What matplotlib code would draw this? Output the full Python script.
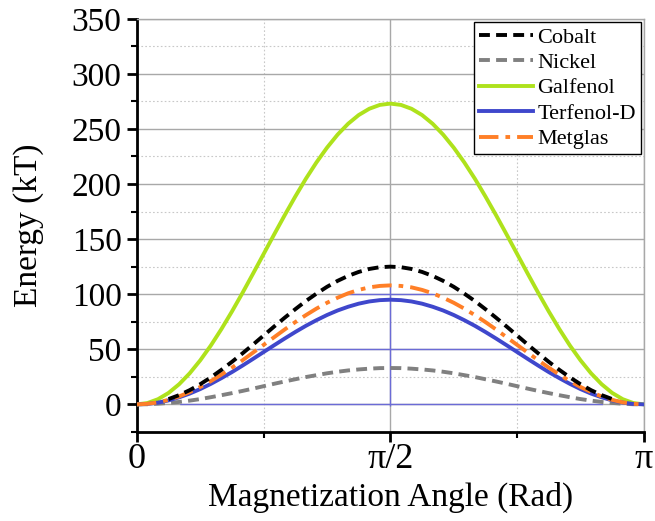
import numpy as np
import matplotlib
matplotlib.use("Agg")
import matplotlib.pyplot as plt
from matplotlib.patches import Polygon
from matplotlib.ticker import FixedLocator, MultipleLocator

# Magnetization angle samples (rad), 3.75 degree steps from 0 to pi
angle = [0.0, 0.0654, 0.1309, 0.1963, 0.2618, 0.3272, 0.3927, 0.4581, 0.5236, 0.5890,
         0.6545, 0.7199, 0.7854, 0.8508, 0.9163, 0.9817, 1.0472, 1.1126, 1.1781, 1.2435,
         1.3090, 1.3744, 1.4399, 1.5053, 1.5708, 1.6362, 1.7017, 1.7671, 1.8326, 1.8980,
         1.9635, 2.0289, 2.0944, 2.1598, 2.2253, 2.2907, 2.3562, 2.4216, 2.4871, 2.5525,
         2.6180, 2.6834, 2.7489, 2.8143, 2.8798, 2.9452, 3.0107, 3.0761, 3.1416]

nan = float("nan")
cobalt = [nan, nan, nan, 4.8, 8.4, 12.9, 18.3, 24.5, 31.3, 38.6, 46.3, 54.3, 62.5,
          70.7, 78.7, 86.4, 93.8, 100.5, 106.7, 112.1, 116.6, 120.2, 122.9, 124.5, 125.0,
          124.5, 122.9, 120.2, 116.6, 112.1, 106.7, 100.5, 93.8, 86.4, 78.7, 70.7,
          62.5, 54.3, 46.3, 38.6, 31.3, 24.5, 18.3, 12.9, 8.4, 4.8, nan, nan, nan]
nickel = [0.0, 0.1, 0.6, 1.3, 2.2, 3.4, 4.8, 6.5, 8.3, 10.2, 12.2, 14.3, 16.5,
          18.7, 20.8, 22.8, 24.8, 26.5, 28.2, 29.6, 30.8, 31.7, 32.4, 32.9, 33.0,
          32.9, 32.4, 31.7, 30.8, 29.6, 28.2, 26.5, 24.8, 22.8, 20.8, 18.7,
          16.5, 14.3, 12.2, 10.2, 8.3, 6.5, 4.8, 3.4, 2.2, 1.3, 0.6, 0.1, 0.0]
galfenol = [0.0, 1.2, 4.7, 10.4, 18.3, 28.2, 40.0, 53.4, 68.3, 84.3, 101.2, 118.7, 136.5,
            154.3, 171.8, 188.7, 204.8, 219.6, 233.0, 244.8, 254.7, 262.6, 268.3, 271.8, 273.0,
            271.8, 268.3, 262.6, 254.7, 244.8, 233.0, 219.6, 204.8, 188.7, 171.8, 154.3,
            136.5, 118.7, 101.2, 84.3, 68.3, 53.4, 40.0, 28.2, 18.3, 10.4, 4.7, 1.2, 0.0]
terfenol = [0.0, 0.4, 1.6, 3.6, 6.4, 9.8, 13.9, 18.6, 23.8, 29.3, 35.2, 41.3, 47.5,
            53.7, 59.8, 65.7, 71.3, 76.4, 81.1, 85.2, 88.6, 91.4, 93.4, 94.6, 95.0,
            94.6, 93.4, 91.4, 88.6, 85.2, 81.1, 76.4, 71.3, 65.7, 59.8, 53.7,
            47.5, 41.3, 35.2, 29.3, 23.8, 18.6, 13.9, 9.8, 6.4, 3.6, 1.6, 0.4, 0.0]
metglas = [0.0, 0.5, 1.8, 4.1, 7.2, 11.2, 15.8, 21.1, 27.0, 33.3, 40.0, 47.0, 54.0,
           61.0, 68.0, 74.7, 81.0, 86.9, 92.2, 96.8, 100.8, 103.9, 106.2, 107.5, 108.0,
           107.5, 106.2, 103.9, 100.8, 96.8, 92.2, 86.9, 81.0, 74.7, 68.0, 61.0,
           54.0, 47.0, 40.0, 33.3, 27.0, 21.1, 15.8, 11.2, 7.2, 4.1, 1.8, 0.5, 0.0]

x_ticks = [0, np.pi / 2, np.pi]
x_ticklabels = ["0", "\u03c0/2", "\u03c0"]

plt.rcParams["font.family"] = ["Liberation Serif", "DejaVu Serif"]

fig = plt.figure(figsize=(6.55, 5.21), dpi=100)
ax = fig.add_axes([0.209, 0.171, 0.774, 0.793])

ax.set_xlim(0, np.pi)
ax.set_ylim(-25, 350)

# grid
ax.xaxis.set_major_locator(FixedLocator(x_ticks))
ax.xaxis.set_minor_locator(FixedLocator([np.pi / 4, 3 * np.pi / 4]))
ax.yaxis.set_major_locator(MultipleLocator(50))
ax.yaxis.set_minor_locator(MultipleLocator(25))
ax.grid(which="major", color="#a8a8a8", linewidth=1.0, linestyle="-", zorder=0)
ax.grid(which="minor", color="#c8c8c8", linewidth=0.8, linestyle=(0, (1.5, 2)), zorder=0)
ax.set_axisbelow(True)

# blue grid overlay below the Metglas curve
i0, i1 = 4, 44
poly_xy = [(angle[i], metglas[i]) for i in range(i0, i1 + 1)]
poly_xy += [(2.89, -2), (0.27, -2)]
clip = Polygon(poly_xy, closed=True, transform=ax.transData, facecolor="none", edgecolor="none")
ax.add_patch(clip)
for yv in (0, 50, 100):
    ln = ax.axhline(yv, color="#6b6bd6", linewidth=1.0, zorder=1)
    ln.set_clip_path(clip)
vl = ax.axvline(np.pi / 2, color="#6b6bd6", linewidth=1.0, zorder=1)
vl.set_clip_path(clip)

lw = 2.8
ax.plot(angle, nickel, color="#808080", linestyle=(0, (2.8, 1.6)), linewidth=lw, label="Nickel", zorder=3)
ax.plot(angle, galfenol, color="#aee21c", linestyle="-", linewidth=lw, label="Galfenol", zorder=3)
ax.plot(angle, terfenol, color="#3f47cc", linestyle="-", linewidth=lw, label="Terfenol-D", zorder=4)
ax.plot(angle, metglas, color="#ff7f27", linestyle=(0, (5, 1.8, 1.2, 1.8)), linewidth=lw, label="Metglas", zorder=5)
ax.plot(angle, cobalt, color="black", linestyle=(0, (2.8, 1.6)), linewidth=lw, label="Cobalt", zorder=6)

ax.set_xticklabels(x_ticklabels)

for s in ("left", "bottom"):
    ax.spines[s].set_linewidth(2.0)
    ax.spines[s].set_color("black")
for s in ("top", "right"):
    ax.spines[s].set_linewidth(1.0)
    ax.spines[s].set_color("#a8a8a8")

ax.tick_params(which="major", direction="out", length=7, width=2, labelsize=24, pad=4,
               top=False, right=False)
ax.tick_params(which="minor", direction="out", length=4, width=1.5, top=False, right=False)
ax.tick_params(axis="x", which="major", pad=1, labelsize=26)

ax.set_xlabel("Magnetization Angle (Rad)", fontsize=24, labelpad=4)
ax.set_ylabel("Energy (kT)", fontsize=24, labelpad=20)

handles, labels = ax.get_legend_handles_labels()
order = ["Cobalt", "Nickel", "Galfenol", "Terfenol-D", "Metglas"]
hmap = dict(zip(labels, handles))
leg = ax.legend([hmap[k] for k in order], order, loc="upper right", fontsize=16,
                frameon=True, fancybox=False, edgecolor="black", framealpha=1,
                handlelength=2.4, labelspacing=0.22, borderpad=0.22, handletextpad=0.2,
                borderaxespad=0.15)
leg.get_frame().set_linewidth(1.0)

fig.savefig("out.png", dpi=100)
